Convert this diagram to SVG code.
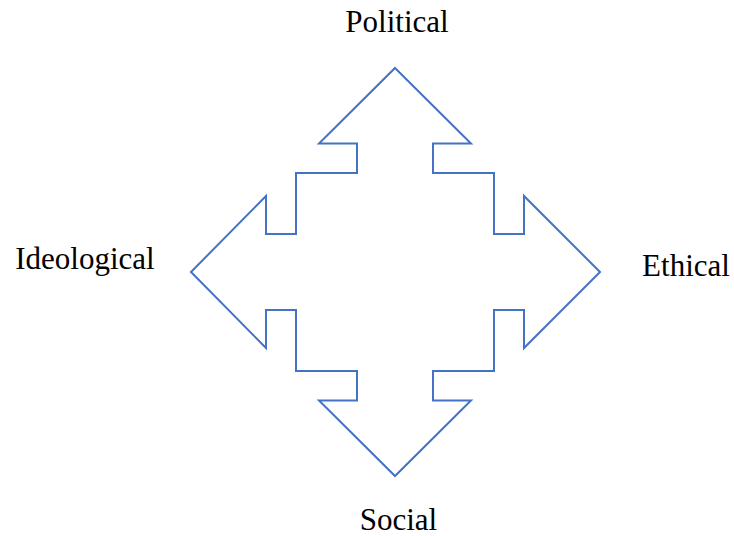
<svg xmlns="http://www.w3.org/2000/svg" width="734" height="536" viewBox="0 0 734 536">
  <style>
    .arrow { fill: #ffffff; stroke: #4472c4; stroke-width: 2; stroke-linejoin: miter; }
    .label { font-family: "Liberation Serif", "Times New Roman", serif; font-size: 31px; fill: #000000; text-anchor: middle; }
  </style>
  <rect width="734" height="536" fill="#ffffff"/>
  <!-- four-way arrow centred at (395, 272) -->
  <g id="quad-arrow">
    <polygon class="arrow" points="395,68 471,143.5 433,143.5 433,173 494,173 494,234 524,234 524,196 600,272 524,348 524,310 494,310 494,371 433,371 433,400.5 471,400.5 395,476 319,400.5 357,400.5 357,371 296,371 296,310 266,310 266,348 191,272 266,196 266,234 296,234 296,173 357,173 357,143.5 319,143.5"/>
  </g>
  <g id="political"><text class="label" x="397" y="31.5">Political</text></g>
  <g id="ideological"><text class="label" x="85" y="268.5">Ideological</text></g>
  <g id="ethical"><text class="label" x="686" y="276">Ethical</text></g>
  <g id="social"><text class="label" x="398.5" y="529.5">Social</text></g>
</svg>
